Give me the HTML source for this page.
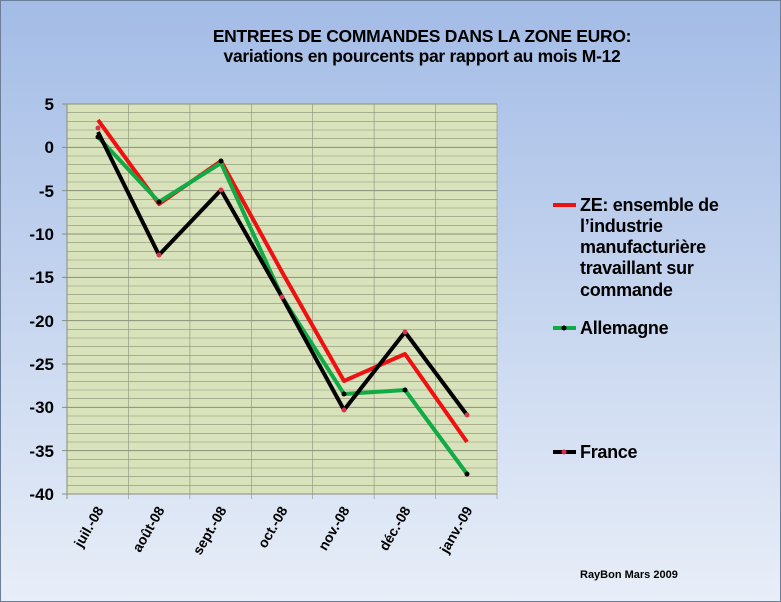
<!DOCTYPE html>
<html><head><meta charset="utf-8"><style>body{margin:0}svg{display:block}</style></head><body>
<svg width="781" height="602" xmlns="http://www.w3.org/2000/svg" font-family="Liberation Sans, sans-serif" font-weight="bold">
<defs><linearGradient id="bg" x1="0" y1="0" x2="0" y2="1"><stop offset="0" stop-color="#a3bce6"/><stop offset="1" stop-color="#e8eef8"/></linearGradient></defs>
<rect x="0.5" y="0.5" width="780" height="601" fill="url(#bg)" stroke="#6b7f99"/>
<text x="422" y="42" font-size="17.5" text-anchor="middle" letter-spacing="-0.3">ENTREES DE COMMANDES DANS LA ZONE EURO:</text>
<text x="422" y="62" font-size="17.5" text-anchor="middle" letter-spacing="-0.3">variations  en pourcents par rapport au mois M-12</text>
<rect x="67" y="104" width="430" height="390" fill="#d9e3bb"/>
<g stroke="#8a8f7a" stroke-width="0.6">
<line x1="62" x2="497" y1="104" y2="104" stroke-width="1"/><line x1="67" x2="497" y1="112.67" y2="112.67"/><line x1="67" x2="497" y1="121.33" y2="121.33"/><line x1="67" x2="497" y1="130" y2="130"/><line x1="67" x2="497" y1="138.67" y2="138.67"/>
<line x1="62" x2="497" y1="147.33" y2="147.33" stroke-width="1"/><line x1="67" x2="497" y1="156" y2="156"/><line x1="67" x2="497" y1="164.67" y2="164.67"/><line x1="67" x2="497" y1="173.33" y2="173.33"/><line x1="67" x2="497" y1="182" y2="182"/>
<line x1="62" x2="497" y1="190.67" y2="190.67" stroke-width="1"/><line x1="67" x2="497" y1="199.33" y2="199.33"/><line x1="67" x2="497" y1="208" y2="208"/><line x1="67" x2="497" y1="216.67" y2="216.67"/><line x1="67" x2="497" y1="225.33" y2="225.33"/>
<line x1="62" x2="497" y1="234" y2="234" stroke-width="1"/><line x1="67" x2="497" y1="242.67" y2="242.67"/><line x1="67" x2="497" y1="251.33" y2="251.33"/><line x1="67" x2="497" y1="260" y2="260"/><line x1="67" x2="497" y1="268.67" y2="268.67"/>
<line x1="62" x2="497" y1="277.33" y2="277.33" stroke-width="1"/><line x1="67" x2="497" y1="286" y2="286"/><line x1="67" x2="497" y1="294.67" y2="294.67"/><line x1="67" x2="497" y1="303.33" y2="303.33"/><line x1="67" x2="497" y1="312" y2="312"/>
<line x1="62" x2="497" y1="320.67" y2="320.67" stroke-width="1"/><line x1="67" x2="497" y1="329.33" y2="329.33"/><line x1="67" x2="497" y1="338" y2="338"/><line x1="67" x2="497" y1="346.67" y2="346.67"/><line x1="67" x2="497" y1="355.33" y2="355.33"/>
<line x1="62" x2="497" y1="364" y2="364" stroke-width="1"/><line x1="67" x2="497" y1="372.67" y2="372.67"/><line x1="67" x2="497" y1="381.33" y2="381.33"/><line x1="67" x2="497" y1="390" y2="390"/><line x1="67" x2="497" y1="398.67" y2="398.67"/>
<line x1="62" x2="497" y1="407.33" y2="407.33" stroke-width="1"/><line x1="67" x2="497" y1="416" y2="416"/><line x1="67" x2="497" y1="424.67" y2="424.67"/><line x1="67" x2="497" y1="433.33" y2="433.33"/><line x1="67" x2="497" y1="442" y2="442"/>
<line x1="62" x2="497" y1="450.67" y2="450.67" stroke-width="1"/><line x1="67" x2="497" y1="459.33" y2="459.33"/><line x1="67" x2="497" y1="468" y2="468"/><line x1="67" x2="497" y1="476.67" y2="476.67"/><line x1="67" x2="497" y1="485.33" y2="485.33"/>
<line x1="62" x2="497" y1="494" y2="494" stroke-width="1"/>
<line x1="67" x2="67" y1="104" y2="499" stroke-width="1"/><line x1="128.4" x2="128.4" y1="104" y2="499"/><line x1="189.9" x2="189.9" y1="104" y2="499"/><line x1="251.3" x2="251.3" y1="104" y2="499"/><line x1="312.7" x2="312.7" y1="104" y2="499"/><line x1="374.1" x2="374.1" y1="104" y2="499"/><line x1="435.6" x2="435.6" y1="104" y2="499"/><line x1="497" x2="497" y1="104" y2="499"/>
</g>
<g font-size="17" text-anchor="end">
<text x="54" y="110">5</text><text x="54" y="153">0</text><text x="54" y="197">-5</text><text x="54" y="240">-10</text><text x="54" y="283">-15</text><text x="54" y="327">-20</text><text x="54" y="370">-25</text><text x="54" y="413">-30</text><text x="54" y="457">-35</text><text x="54" y="500">-40</text>
</g>
<g font-size="14" text-anchor="end">
<text transform="translate(104,510) rotate(-60)">juil.-08</text>
<text transform="translate(165,510) rotate(-60)">août-08</text>
<text transform="translate(227,510) rotate(-60)">sept.-08</text>
<text transform="translate(288,510) rotate(-60)">oct.-08</text>
<text transform="translate(350,510) rotate(-60)">nov.-08</text>
<text transform="translate(411,510) rotate(-60)">déc.-08</text>
<text transform="translate(473,510) rotate(-60)">janv.-09</text>
</g>
<g fill="none" stroke-width="4" stroke-linejoin="round">
<polyline stroke="#ee1111" points="98,120 159,204 221,161 282,272 344,381 405,354 467,442"/>
<polyline stroke="#11aa44" points="98,137 159,202 221,163 282,297 344,394 405,390 467,474"/>
<polyline stroke="#000" points="98,132 159,255 221,190 282,297 344,410 405,332 467,415"/>
</g>
<g fill="#000"><circle cx="98" cy="137" r="2.5"/><circle cx="159" cy="202" r="2.5"/><circle cx="221" cy="161" r="2.5"/><circle cx="344" cy="394" r="2.5"/><circle cx="405" cy="390" r="2.5"/><circle cx="467" cy="474" r="2.5"/></g>
<g fill="#d8324f"><circle cx="98" cy="128" r="2.5"/><circle cx="159" cy="255" r="2.5"/><circle cx="221" cy="190" r="2.5"/><circle cx="282" cy="297" r="2.5"/><circle cx="344" cy="410" r="2.5"/><circle cx="405" cy="332" r="2.5"/><circle cx="467" cy="415" r="2.5"/></g>
<g font-size="18" letter-spacing="-0.3">
<line x1="553" y1="205" x2="576" y2="205" stroke="#ee1111" stroke-width="4"/>
<text x="580" y="211">ZE: ensemble de</text><text x="580" y="232">l’industrie</text><text x="580" y="253">manufacturière</text><text x="580" y="274">travaillant sur</text><text x="580" y="296">commande</text>
<line x1="553" y1="328" x2="576" y2="328" stroke="#11aa44" stroke-width="4"/><circle cx="564" cy="328" r="2.5"/>
<text x="580" y="334">Allemagne</text>
<line x1="553" y1="452" x2="576" y2="452" stroke="#000" stroke-width="4"/><circle cx="564" cy="452" r="2.5" fill="#d8324f"/>
<text x="580" y="458">France</text>
</g>
<text x="580" y="578" font-size="11">RayBon Mars 2009</text>
</svg>
</body></html>
